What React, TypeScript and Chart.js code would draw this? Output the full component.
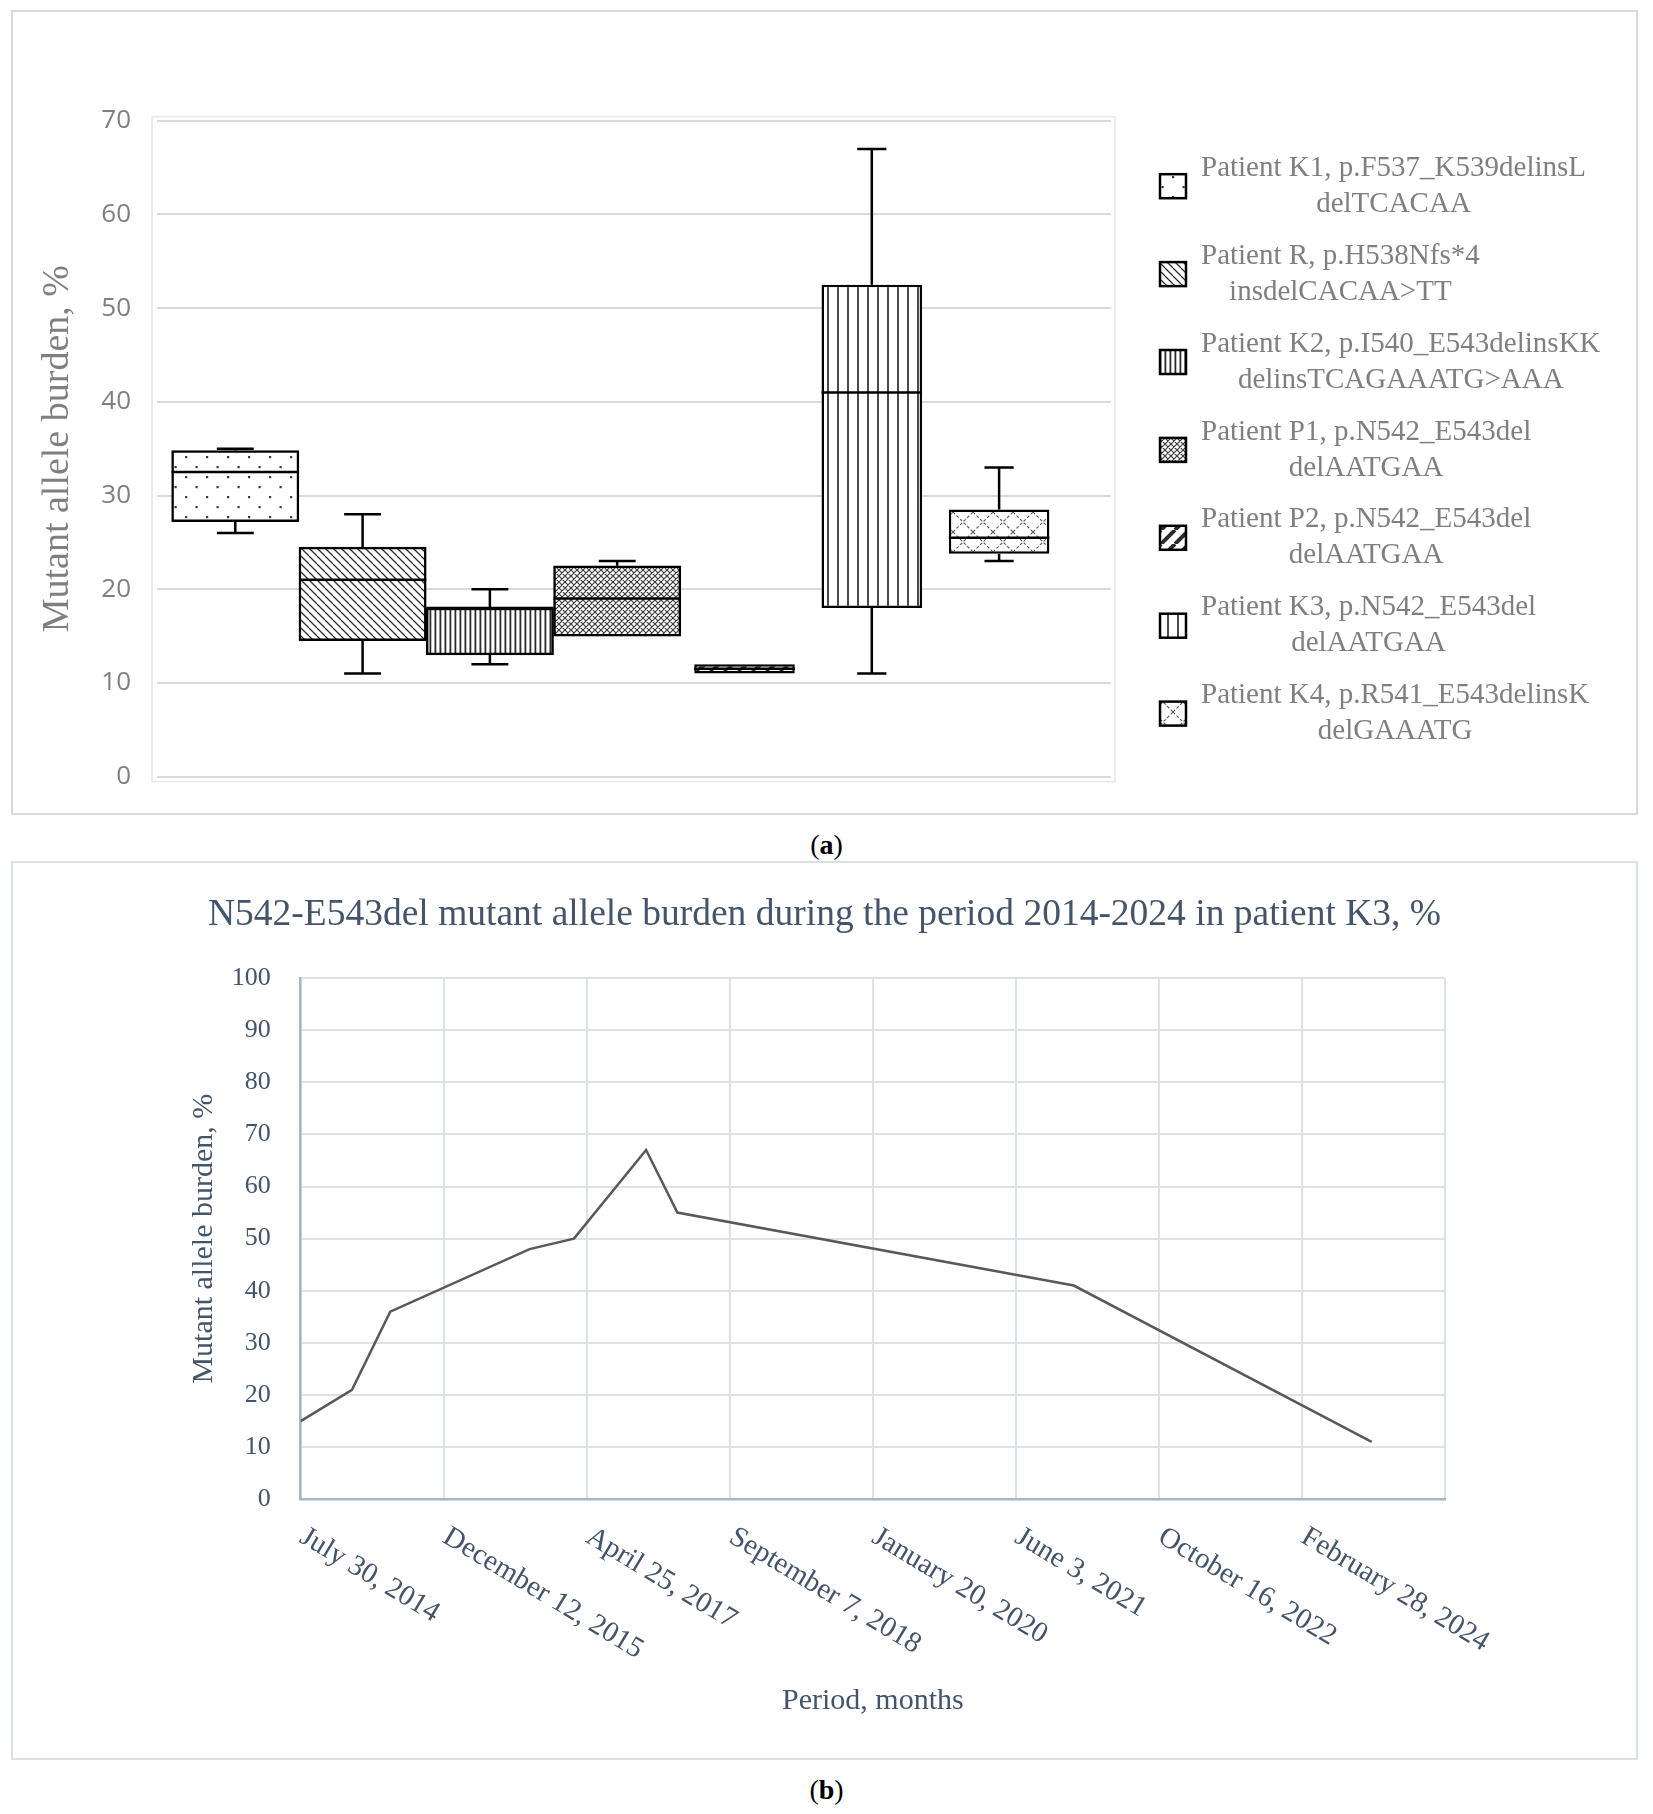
import React, { useEffect, useRef } from 'react';
import { Chart, registerables } from 'chart.js';

Chart.register(...registerables);

// ---------------- Panel (a): box & whisker data ----------------
const patientNames = [
  'Patient K1, p.F537_K539delinsL',
  'Patient R, p.H538Nfs*4',
  'Patient K2, p.I540_E543delinsKK',
  'Patient P1, p.N542_E543del',
  'Patient P2, p.N542_E543del',
  'Patient K3, p.N542_E543del',
  'Patient K4, p.R541_E543delinsK',
];
const mutationNames = [
  'delTCACAA',
  'insdelCACAA>TT',
  'delinsTCAGAAATG>AAA',
  'delAATGAA',
  'delAATGAA',
  'delAATGAA',
  'delGAAATG',
];
const boxMin = [26, 11, 12, 15, 11, 11, 23];
const boxQ1 = [27.2, 14.5, 13, 15, 11, 18, 23.8];
const boxMedian = [32.5, 21, 18, 19, 11.5, 41, 25.5];
const boxQ3 = [34.8, 24.5, 18, 22.5, 12, 52.5, 28.5];
const boxMax = [35, 28, 20, 23, 12, 67, 33];
const yAxisTitleA = 'Mutant allele burden, %';

// ---------------- Panel (b): time series data ----------------
const sampleDates = [
  '2014-07-30',
  '2015-01-23',
  '2015-06-04',
  '2016-09-27',
  '2017-02-27',
  '2017-11-03',
  '2018-02-19',
  '2021-11-18',
  '2024-09-11',
];
const burdenValues = [15, 21, 36, 48, 50, 67, 55, 41, 11];
const dateTickLabels = [
  'July 30, 2014',
  'December 12, 2015',
  'April 25, 2017',
  'September 7, 2018',
  'January 20, 2020',
  'June 3, 2021',
  'October 16, 2022',
  'February 28, 2024',
];
const axisStartDate = '2014-07-30';
const axisEndDate = '2025-05-22';
const tickStepDays = 500;
const titleB = 'N542-E543del mutant allele burden during the period 2014-2024 in patient K3, %';
const xTitleB = 'Period, months';
const yTitleB = 'Mutant allele burden, %';

// ---------------- styling / layout ----------------
const SERIF = 'Liberation Serif';
const GRAY_TEXT = '#7f7f7f';
const SLATE = '#44546a';
const boxWidthRatios = [1, 1, 1, 1, 0.79, 0.79, 0.79];
const patternKinds = ['dots', 'diagDown', 'vertNarrow', 'checker', 'diagUpWide', 'vertWide', 'diamond'];

const DAY = 86400000;
const toDays = (d: string) => (Date.parse(d) - Date.parse(axisStartDate)) / DAY;

function makePattern(kind: string): CanvasPattern | string {
  const c = document.createElement('canvas');
  const g = c.getContext('2d');
  if (!g) return '#fff';
  const setup = (w: number, h: number) => {
    c.width = w;
    c.height = h;
    g.fillStyle = '#fff';
    g.fillRect(0, 0, w, h);
  };
  const lines = (segs: number[][], color: string, width: number, dash?: number[]) => {
    g.strokeStyle = color;
    g.lineWidth = width;
    if (dash) g.setLineDash(dash);
    g.beginPath();
    segs.forEach(([x1, y1, x2, y2]) => {
      g.moveTo(x1, y1);
      g.lineTo(x2, y2);
    });
    g.stroke();
  };
  switch (kind) {
    case 'dots':
      setup(21, 20);
      g.fillStyle = '#3a3a3a';
      g.fillRect(4, 4, 2.2, 2.2);
      g.fillRect(14.5, 14, 2.2, 2.2);
      break;
    case 'diagDown': {
      const s = 8;
      setup(s, s);
      lines([[-s, 0, 0, s], [0, 0, s, s], [s, 0, 2 * s, s]], '#2b2b2b', 1.3);
      break;
    }
    case 'vertNarrow':
      setup(5, 5);
      g.fillStyle = '#2b2b2b';
      g.fillRect(1.5, 0, 1.8, 5);
      break;
    case 'checker': {
      const s = 6;
      setup(s, s);
      lines(
        [[-s, 0, 0, s], [0, 0, s, s], [s, 0, 2 * s, s], [-s, s, 0, 0], [0, s, s, 0], [s, s, 2 * s, 0]],
        '#3c3c3c',
        1.2
      );
      break;
    }
    case 'diagUpWide': {
      const s = 14;
      setup(s, s);
      lines([[-s, s, 0, 0], [0, s, s, 0], [s, s, 2 * s, 0]], '#2b2b2b', 4);
      break;
    }
    case 'vertWide':
      setup(10, 10);
      g.fillStyle = '#4a4a4a';
      g.fillRect(4, 0, 2, 10);
      break;
    case 'diamond': {
      const s = 20;
      setup(s, s);
      lines(
        [[-s, 0, 0, s], [0, 0, s, s], [s, 0, 2 * s, s], [-s, s, 0, 0], [0, s, s, 0], [s, s, 2 * s, 0]],
        '#555',
        1.1,
        [3, 2]
      );
      break;
    }
    default:
      return '#fff';
  }
  return g.createPattern(c, 'repeat') || '#fff';
}

// Whiskers, caps, medians and plot-area outline for panel (a)
const boxPlugin = {
  id: 'boxWhiskers',
  beforeDraw(chart: any) {
    const { ctx, chartArea } = chart;
    ctx.save();
    ctx.strokeStyle = '#e8e8e8';
    ctx.lineWidth = 1.5;
    ctx.strokeRect(chartArea.left - 5, chartArea.top - 4, chartArea.right - chartArea.left + 9, chartArea.bottom - chartArea.top + 9);
    ctx.restore();
  },
  afterDatasetsDraw(chart: any) {
    const { ctx } = chart;
    const y = chart.scales.y;
    ctx.save();
    ctx.strokeStyle = '#000';
    ctx.lineWidth = 2.5;
    chart.data.datasets.forEach((_ds: any, i: number) => {
      const meta = chart.getDatasetMeta(i);
      const bar = meta.data[0];
      if (!bar) return;
      const { x, width } = bar.getProps(['x', 'width'], true);
      const cap = width * 0.29;
      const pMin = y.getPixelForValue(boxMin[i]);
      const pQ1 = y.getPixelForValue(boxQ1[i]);
      const pMed = y.getPixelForValue(boxMedian[i]);
      const pQ3 = y.getPixelForValue(boxQ3[i]);
      const pMax = y.getPixelForValue(boxMax[i]);
      ctx.beginPath();
      if (boxMax[i] > boxQ3[i]) {
        ctx.moveTo(x, pQ3);
        ctx.lineTo(x, pMax);
        ctx.moveTo(x - cap / 2, pMax);
        ctx.lineTo(x + cap / 2, pMax);
      }
      if (boxMin[i] < boxQ1[i]) {
        ctx.moveTo(x, pQ1);
        ctx.lineTo(x, pMin);
        ctx.moveTo(x - cap / 2, pMin);
        ctx.lineTo(x + cap / 2, pMin);
      }
      ctx.moveTo(x - width / 2, pMed);
      ctx.lineTo(x + width / 2, pMed);
      ctx.stroke();
    });
    ctx.restore();
  },
};

// Right-hand legend for panel (a)
const legendPlugin = {
  id: 'patternLegend',
  afterDraw(chart: any) {
    const { ctx, chartArea } = chart;
    const swX = chartArea.right + 49;
    const textLeft = chartArea.right + 90;
    const startY = 174.2;
    const step = 87.9;
    ctx.save();
    ctx.font = `29px "${SERIF}"`;
    ctx.textBaseline = 'middle';
    ctx.textAlign = 'center';
    chart.data.datasets.forEach((ds: any, i: number) => {
      const cy = startY + i * step;
      ctx.fillStyle = ds.backgroundColor;
      ctx.fillRect(swX, cy - 12, 26, 24);
      ctx.strokeStyle = '#000';
      ctx.lineWidth = 2.5;
      ctx.strokeRect(swX, cy - 12, 26, 24);
      const l1 = patientNames[i];
      const l2 = mutationNames[i];
      const w = Math.max(ctx.measureText(l1).width, ctx.measureText(l2).width);
      const cx = textLeft + w / 2;
      ctx.fillStyle = GRAY_TEXT;
      ctx.fillText(l1, cx, cy - 18);
      ctx.fillText(l2, cx, cy + 18);
    });
    ctx.restore();
  },
};

// Rotated date labels for panel (b)
const dateLabelPlugin = {
  id: 'rotatedDateLabels',
  afterDraw(chart: any) {
    const { ctx } = chart;
    const xs = chart.scales.x;
    ctx.save();
    ctx.font = `29px "${SERIF}"`;
    ctx.fillStyle = SLATE;
    ctx.textAlign = 'left';
    ctx.textBaseline = 'top';
    xs.ticks.forEach((t: any, i: number) => {
      const idx = Math.round(t.value / tickStepDays);
      const label = dateTickLabels[idx];
      if (!label) return;
      const px = xs.getPixelForTick(i);
      ctx.save();
      ctx.translate(px + 9, xs.top + 23);
      ctx.rotate((31 * Math.PI) / 180);
      ctx.fillText(label, 0, 0);
      ctx.restore();
    });
    ctx.restore();
  },
};

export default function App() {
  const refA = useRef<HTMLCanvasElement>(null);
  const refB = useRef<HTMLCanvasElement>(null);

  useEffect(() => {
    if (!refA.current || !refB.current) return;
    const patterns = patternKinds.map((k) => makePattern(k));

    const chartA = new Chart(refA.current, {
      type: 'bar',
      data: {
        datasets: patientNames.map((name, i) => ({
          label: `${name} ${mutationNames[i]}`,
          data: [{ x: i, y: [boxQ1[i], boxQ3[i]] }],
          backgroundColor: patterns[i],
          borderColor: '#000',
          borderWidth: 2.5,
          borderSkipped: false,
          grouped: false,
          categoryPercentage: 1,
          barPercentage: boxWidthRatios[i],
        })),
      } as any,
      options: {
        animation: false,
        responsive: false,
        maintainAspectRatio: false,
        layout: { padding: { top: 108.8, right: 525, bottom: 36.4, left: 0 } },
        plugins: { legend: { display: false }, tooltip: { enabled: false } },
        scales: {
          x: {
            type: 'linear',
            display: false,
            min: -0.615,
            max: 6.879,
            offset: false,
            ticks: { stepSize: 1, includeBounds: false },
          },
          y: {
            min: 0,
            max: 70,
            ticks: {
              stepSize: 10,
              color: GRAY_TEXT,
              font: { family: 'Open Sans', size: 26 },
              padding: 0,
            },
            grid: {
              color: '#d9d9d9',
              lineWidth: 2,
              drawTicks: true,
              tickLength: 26,
              tickColor: 'rgba(0,0,0,0)',
            },
            border: { display: false },
            title: {
              display: true,
              text: yAxisTitleA,
              color: GRAY_TEXT,
              font: { family: SERIF, size: 38 },
              padding: { top: 21.9, bottom: 0 },
            },
            afterFit: (s: any) => {
              s.width = 144;
            },
          },
        },
      } as any,
      plugins: [boxPlugin, legendPlugin],
    });

    const chartB = new Chart(refB.current, {
      type: 'line',
      data: {
        datasets: [
          {
            label: 'K3',
            data: sampleDates.map((d, i) => ({ x: toDays(d), y: burdenValues[i] })),
            borderColor: '#595959',
            borderWidth: 2.5,
            pointRadius: 0,
            tension: 0,
            fill: false,
          },
        ],
      },
      options: {
        animation: false,
        responsive: false,
        maintainAspectRatio: false,
        layout: { padding: 0 },
        plugins: {
          legend: { display: false },
          tooltip: { enabled: false },
          title: {
            display: true,
            text: titleB,
            color: SLATE,
            font: { family: SERIF, size: 37.5, weight: 'normal' },
            padding: { top: 30.1, bottom: 39.9 },
          },
        },
        scales: {
          x: {
            type: 'linear',
            min: 0,
            max: toDays(axisEndDate),
            ticks: { display: false, stepSize: tickStepDays, includeBounds: false },
            grid: { color: '#dce2ea', lineWidth: 2, drawTicks: false },
            border: { color: '#a7b5c8', width: 2.5 },
            title: {
              display: true,
              text: xTitleB,
              color: SLATE,
              font: { family: SERIF, size: 30 },
              padding: { top: 0, bottom: 39 },
            },
            afterFit: (s: any) => {
              s.height = 258.7;
            },
          },
          y: {
            min: 0,
            max: 100,
            ticks: { stepSize: 10, color: SLATE, font: { family: SERIF, size: 26 }, padding: 30 },
            grid: { color: '#dce2ea', lineWidth: 2, drawTicks: false },
            border: { color: '#a7b5c8', width: 2.5 },
            title: {
              display: true,
              text: yTitleB,
              color: SLATE,
              font: { family: SERIF, size: 30 },
              padding: { top: 173.4, bottom: 0 },
            },
            afterFit: (s: any) => {
              s.width = 287.7;
            },
          },
          yRight: {
            type: 'linear',
            position: 'right',
            display: true,
            grid: { display: false },
            ticks: { display: false },
            border: { display: false },
            afterFit: (s: any) => {
              s.width = 191;
            },
          },
        },
      } as any,
      plugins: [dateLabelPlugin],
    });

    return () => {
      chartA.destroy();
      chartB.destroy();
    };
  }, []);

  const caption: React.CSSProperties = {
    position: 'absolute',
    left: 0,
    width: 1653,
    height: 35,
    lineHeight: '35px',
    textAlign: 'center',
    fontFamily: `"${SERIF}", serif`,
    fontSize: 28,
    color: '#000',
  };

  return (
    <div style={{ position: 'absolute', left: 0, top: 0, width: 1653, height: 1814, background: '#fff' }}>
      <div
        style={{
          position: 'absolute',
          left: 11,
          top: 10,
          width: 1627,
          height: 805,
          border: '2px solid #d9d9d9',
          boxSizing: 'border-box',
        }}
      />
      <canvas
        ref={refA}
        width={1623}
        height={801}
        style={{ position: 'absolute', left: 13, top: 12, width: 1623, height: 801 }}
      />
      <div style={{ ...caption, top: 827 }}>
        (<b>a</b>)
      </div>
      <div
        style={{
          position: 'absolute',
          left: 11,
          top: 861,
          width: 1627,
          height: 899,
          border: '2px solid #dae0e8',
          boxSizing: 'border-box',
        }}
      />
      <canvas
        ref={refB}
        width={1623}
        height={895}
        style={{ position: 'absolute', left: 13, top: 863, width: 1623, height: 895 }}
      />
      <div style={{ ...caption, top: 1771.5 }}>
        (<b>b</b>)
      </div>
    </div>
  );
}
